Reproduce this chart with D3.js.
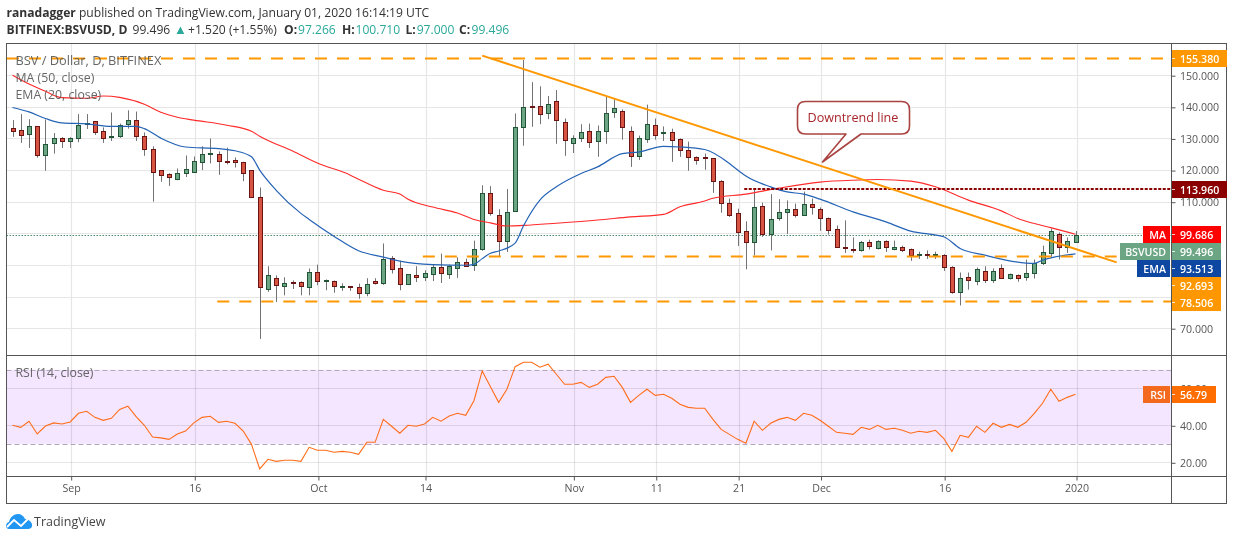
<!DOCTYPE html>
<html>
<head>
<meta charset="utf-8">
<script src="https://cdn.jsdelivr.net/npm/d3@7"></script>
<style>
html, body { margin: 0; padding: 0; background: #fff; }
svg { display: block; }
text { font-family: "Open Sans", sans-serif; }
</style>
</head>
<body>
<div class="mainviz"></div>
<script>
// daily candles, Aug 25 2019 .. Jan 1 2020 (index = days since first candle)
var opens = [133.2,132.8,131.5,133.8,124.9,128.7,130,129.2,130.3,134.7,135.4,132.2,130.5,130.9,134.6,135.7,130.9,126.8,119.9,118.9,117.3,119.1,119.5,122.7,125.2,125.2,123,123.3,122.4,119.9,111.6,82.5,86,83.4,84.5,84.7,82.9,87.9,84.8,85,83.1,83.2,82.9,81,84.8,84.4,92.3,88.9,84.1,86.7,86.2,87.2,89.5,87.2,89.1,90.8,90,95.1,112.6,105.9,97.7,107,133.5,140.4,140.4,137.9,142,135.3,128.7,130,132.2,129.3,132.2,138.5,138.8,132.5,124.3,129.7,134.4,131.8,131.9,129.7,126.2,124,124,123.7,116.4,109.7,106.3,100.6,97.4,108.5,99.9,104.7,106.6,107.8,105.9,109.4,107.8,105,101.5,95.8,95.2,94.8,97.4,95.5,97.7,95.2,95.8,94.9,93,93.6,93,93.3,89.5,81.3,86.3,84.8,88.2,85.1,88.9,86,86.7,86.3,87.3,90.5,93.9,99.9,95.8,97.266];
var highs = [135.8,137.7,136.1,133.9,136,131.7,130.4,130.4,137.7,137.7,135.5,133.5,138.2,134.7,138.9,138.5,131.9,127.5,120,119,120.5,124.6,124.3,127.5,130,125.9,127.1,124,122.6,120,114.5,89.6,86.7,86.1,85.1,84.8,88.9,90.1,85.4,85.1,84.2,83.3,84.1,85.8,85.8,96.8,92.8,91.3,87,89.6,88.3,90.1,93.6,90.1,92.4,92,97.7,115.2,114.9,107.6,114,137.9,154.8,147.8,146.5,143.4,145.3,136.3,131,134.5,134.7,134.1,143.2,142.4,139.2,133.8,130.9,140.7,136.3,133.8,133.1,130,129,124.3,125.2,123.7,116.8,111,107.8,103.8,113.9,109.7,112.4,110.8,110.4,109.4,113.2,111,108.2,105,102.5,104.1,98.7,97.6,98,97.8,97.8,97.7,96.1,95.2,94.2,94.6,94.2,93.4,89.6,87.6,87.6,89.2,89.6,88.9,90.2,87.3,87,91.7,91.7,96.1,101.5,100.3,98.7,100.71];
var lows = [130.5,128.6,127,123.9,119.8,125.2,127,127,128.8,133,131.1,128.6,129.2,130.2,133.1,129.2,124.5,110,116.3,115,116.8,117.8,119.2,120,122.1,118.5,121.8,120.8,116.5,111.5,66.6,81.5,78.3,80.4,82.4,80.4,80.4,83.6,82,81.2,81.8,81.8,79.3,80.1,83.8,83.7,87.3,82,83.7,84.6,84.9,84.9,84.3,85.6,85.9,89.4,88.1,94.5,105.6,92.6,94.1,106.8,127.7,133.7,134.5,136.1,128.3,124.5,125.4,128.9,127,124.2,128.3,136.5,129.6,121,123.2,128.6,129.6,129.2,122.6,124.2,119.8,121.7,120.1,112.8,106.5,105.2,96,88.6,93,98.9,94.6,104,99.8,105,105.8,105.9,100.8,99.6,95.5,93.8,93.8,94.2,94.9,94.9,94.1,94.6,94.1,91.3,91.9,91.9,91.9,88.1,80.9,77.2,82.2,83.6,84.3,84.3,85.7,85.4,84.7,85,85.7,90,92.6,91.7,93.8,97];
var closes = [132.4,131.1,133.8,124.9,128.4,130,129.3,130.3,134.1,135,131.9,130.3,130.9,134.4,135.7,130.9,126.8,119.5,118.6,117.7,119.2,120.2,123,125.2,125.3,123,122.9,122.4,119.2,111.6,82.9,86.7,83.8,84.4,84.3,83.2,87.9,84.8,85.1,83.2,83.2,82.9,81,84.1,84.3,92,88.6,84.1,87,86.3,87.4,89.5,87.6,89.6,90.8,89.6,95.2,112.6,106.3,97.7,106.6,133.5,140.1,140.3,137.6,141,135.7,129.4,130,131.9,129,132.2,138.2,139.5,133.5,124.3,130,134.7,131.2,132,129.4,126.2,124,123.3,123.7,116.7,109.7,105.9,100.5,97.1,108.2,99.9,104.4,106.9,107.8,105.9,109.4,108.2,104.7,100.9,95.7,95.5,94.8,97.4,96.1,97.7,95.8,95.8,94.6,93,93.6,93,93.6,89.5,81.3,86,85.1,88.6,85.1,88.2,86,87,86,87.3,90.5,94.2,100.6,95.8,97.7,99.496];

var maDays = [0,2,4,6,9,11,13,16,18,20,22,26,29,30,34,37,41,42,45,47,48,51,54,56,58,60,62,66,71,75,79,81,84,85,89,93,98,102,105,109,112,116,120,122,124,126,129];
var maValues = [150,147.2,144.9,142.9,142.7,143.4,143,140.8,138.3,136.7,135.8,134.2,132.3,130.7,126,122.2,118.4,117.1,113.6,112.4,110.8,108.3,106.4,104.4,103.3,102.3,102.5,103.2,104.2,105.2,106,108.4,110.2,111.1,112.4,114.3,116.2,116.8,117,116.5,114.7,110.5,107.1,104.7,103.1,101.8,99.686];

var emaDays = [0,2,4,6,9,12,15,16,18,21,25,27,29,30,32,35,36,39,42,45,47,51,55,56,57,58,59,61,62,64,66,69,71,74,76,79,81,84,87,88,89,92,94,96,98,102,106,109,113,115,118,121,124,125,129];
var emaValues = [139.8,138.4,136.3,134.9,134.6,133.8,133.8,133.1,130.1,127.3,126.8,126.1,124.2,120,113.6,106.3,104.4,99.1,94.5,92.5,91.2,90.1,89.9,90.2,92,93.7,94.4,96.9,102.3,110.5,114.7,118.9,121,125.2,125.7,127.5,127.3,126.5,122.1,120,118.1,114.7,113.1,112.4,110.8,106.8,103.6,100.7,98.9,95.2,93.1,91.3,90.5,91.5,93.513];

var rsiValues = [40,38.9,42.2,35.3,39.6,41.3,40.7,41.8,46.5,47.6,44.3,42.7,43.8,48.6,50.3,44.7,40,33.7,33.2,32.4,35.3,36.9,41.3,44.3,44.9,41.6,42.2,41.1,36.9,29.7,16.4,21.6,20.5,21.1,21.1,20.5,28.1,26.5,26.5,25.4,25.9,25.4,24.3,30.8,30.8,43.2,39.5,35.7,40,39.5,40.7,44.3,42.2,45,46.5,45.4,53.3,69.4,60.9,52.4,59.5,71.7,74.1,74.1,71.4,73,67.6,62.2,62.2,63.2,60.5,62.2,65.9,66.5,60.5,52.4,56.2,59.5,56.2,56.8,54.6,51.4,49.7,49.2,49.2,43.2,37.8,35.1,32.4,30.3,42.2,37.3,41.1,43.2,44.3,42.7,46.5,45.4,42.7,39.5,36.2,35.7,35.1,38.9,37.8,40,37.8,38.4,37.3,35.7,36.8,36.2,37.3,33,25.9,34.6,33.5,39.5,36.2,41.1,38.9,40.5,38.9,41.6,46.5,51.9,59.5,53,55.1,56.79];

var timeTickDays = [7,22,37,50,68,78,88,98,113,129];
var timeTickLabels = ["Sep","16","Oct","14","Nov","11","21","Dec","16","2020"];
var priceGrid = [150,140,130,120,110,100,90,80,70];
var priceTicks = [150,140,130,120,110,70]; // 100, 90, 80 sit behind the badges
var rsiTicks = [60,40,20];

// drawn horizontal levels and the downtrend line
var levelPrices = [155.38,92.693,78.506];
var levelStartDays = [-0.67,49.8,24.85];
var levelEndDays = [140.6,134,140.6];
var resistancePrice = 113.96;
var resistanceStartDay = 88.8;
var trendDays = [57,134];
var trendPrices = [156.2,90.8];

var width = 1234, height = 540;
var left = 6.5, right = 1171.5, outerRight = 1226.5, top_ = 43.5, mainBottom = 355.5, rsiBottom = 476.5, bottom = 503.5;

var svg = d3.select(".mainviz").append("svg")
	.attr("width", width)
	.attr("height", height);

var x = d3.scaleLinear().domain([0,129]).range([12.5,1075.5]);
var y = d3.scaleLinear().domain([70,150]).range([328.2,75.2]);
var yRsi = d3.scaleLinear().domain([20,40]).range([462.3,425.3]);

var gridColor = "#e6e6e6", textColor = "#555";
var gridOffset = 1; // time grid sits a pixel to the right of the candles

// rsi band
svg.append("rect")
	.attr("x",left).attr("width",right-left)
	.attr("y",yRsi(70)).attr("height",yRsi(30)-yRsi(70))
	.attr("fill","#f4e6fe");

// grids
svg.append("g").selectAll("line")
	.data(timeTickDays)
	.enter().append("line")
	.attr("x1",function(d){return Math.round(x(d)+gridOffset)+.5;})
	.attr("x2",function(d){return Math.round(x(d)+gridOffset)+.5;})
	.attr("y1",top_).attr("y2",rsiBottom)
	.attr("stroke",gridColor).attr("stroke-width",1.2)
	.attr("style","mix-blend-mode:multiply");

svg.append("g").selectAll("line")
	.data(priceGrid)
	.enter().append("line")
	.attr("x1",left).attr("x2",right)
	.attr("y1",function(d){return Math.round(y(d))+.5;})
	.attr("y2",function(d){return Math.round(y(d))+.5;})
	.attr("stroke",gridColor).attr("stroke-width",1.2);

svg.append("g").selectAll("line")
	.data(rsiTicks)
	.enter().append("line")
	.attr("x1",left).attr("x2",right)
	.attr("y1",function(d){return Math.round(yRsi(d))+.5;})
	.attr("y2",function(d){return Math.round(yRsi(d))+.5;})
	.attr("stroke",gridColor).attr("stroke-width",1.2)
	.attr("style","mix-blend-mode:multiply");

// rsi band borders
svg.append("g").selectAll("line")
	.data([70,30])
	.enter().append("line")
	.attr("x1",left).attr("x2",right)
	.attr("y1",function(d){return Math.round(yRsi(d))+.5;})
	.attr("y2",function(d){return Math.round(yRsi(d))+.5;})
	.attr("stroke","#b3a6bb").attr("stroke-dasharray","5 3");

// last price line
svg.append("line")
	.attr("x1",left).attr("x2",right)
	.attr("y1",Math.round(y(closes[129]))+.5).attr("y2",Math.round(y(closes[129]))+.5)
	.attr("stroke","#4f8a6c").attr("stroke-dasharray","1.5 1.5");

// candles
var candles = svg.append("g");
closes.forEach(function(c,i){
	var up = c >= opens[i];
	var cx = Math.round(x(i));
	candles.append("line")
		.attr("x1",cx+.5).attr("x2",cx+.5)
		.attr("y1",y(highs[i])).attr("y2",y(lows[i]))
		.attr("stroke","#737375");
	var yTop = Math.round(y(Math.max(opens[i],c))), yBot = Math.round(y(Math.min(opens[i],c)));
	candles.append("rect")
		.attr("x",cx-1.5).attr("width",4)
		.attr("y",yTop+.5).attr("height",Math.max(1,yBot-yTop))
		.attr("fill",up ? "#6ba583" : "#d75442")
		.attr("stroke",up ? "#225437" : "#6b1414");
});

// moving averages
var avgLine = d3.line()
	.x(function(d){return x(d[0]);})
	.y(function(d){return y(d[1]);})
	.curve(d3.curveMonotoneX);

svg.append("path")
	.attr("d",avgLine(d3.zip(maDays,maValues)))
	.attr("fill","none").attr("stroke","#ff2a2a").attr("stroke-width",1.1);

svg.append("path")
	.attr("d",avgLine(d3.zip(emaDays,emaValues)))
	.attr("fill","none").attr("stroke","#2563b5").attr("stroke-width",1.2);

// rsi
svg.append("path")
	.attr("d",d3.line().x(function(d,i){return x(i);}).y(function(d){return yRsi(d);})(rsiValues))
	.attr("fill","none").attr("stroke","#ff6d1a").attr("stroke-width",1.1);

// drawings
svg.append("g").selectAll("line")
	.data(levelPrices)
	.enter().append("line")
	.attr("x1",function(d,i){return x(levelStartDays[i]);})
	.attr("x2",function(d,i){return x(levelEndDays[i]);})
	.attr("y1",function(d){return Math.round(y(d))+.5;})
	.attr("y2",function(d){return Math.round(y(d))+.5;})
	.attr("stroke","#ff9800").attr("stroke-width",2).attr("stroke-dasharray","12 10");

svg.append("line")
	.attr("x1",x(resistanceStartDay)).attr("x2",right)
	.attr("y1",Math.round(y(resistancePrice))).attr("y2",Math.round(y(resistancePrice)))
	.attr("stroke","#8b0000").attr("stroke-width",2.2).attr("stroke-dasharray","3 1.5");

svg.append("line")
	.attr("x1",x(trendDays[0])).attr("x2",x(trendDays[1]))
	.attr("y1",y(trendPrices[0])).attr("y2",y(trendPrices[1]))
	.attr("stroke","#ff9800").attr("stroke-width",2);

// callout
var callout = svg.append("g");
callout.append("path")
	.attr("d","M805.5,101.5 H901.5 Q909.5,101.5 909.5,109.5 V126 Q909.5,134 901.5,134 H861 L822.5,162 L846,134 H805.5 Q797.5,134 797.5,126 V109.5 Q797.5,101.5 805.5,101.5 Z")
	.attr("fill","#fff").attr("stroke","#a94442").attr("stroke-width",1.6).attr("stroke-linejoin","round");
callout.append("text")
	.attr("x",853).attr("y",121.5)
	.attr("text-anchor","middle").attr("font-size",12.6).attr("fill","#a8262b")
	.text("Downtrend line");

// frame
var frame = svg.append("g").attr("fill","none").attr("stroke","#555");
frame.append("rect").attr("x",left).attr("y",top_).attr("width",outerRight-left).attr("height",bottom-top_);
frame.append("line").attr("x1",right).attr("x2",right).attr("y1",top_).attr("y2",bottom);
frame.append("line").attr("x1",left).attr("x2",outerRight).attr("y1",mainBottom).attr("y2",mainBottom);
frame.append("line").attr("x1",left).attr("x2",outerRight).attr("y1",rsiBottom).attr("y2",rsiBottom);

// axes
var priceAxis = svg.append("g")
	.attr("transform","translate("+right+",0.5)")
	.call(d3.axisRight(y).tickValues(priceTicks).tickSize(4).tickPadding(4.5).tickFormat(d3.format(".3f")));
var rsiAxis = svg.append("g")
	.attr("transform","translate("+right+",0.5)")
	.call(d3.axisRight(yRsi).tickValues(rsiTicks).tickSize(4).tickPadding(4.5).tickFormat(d3.format(".2f")));
var timeAxis = svg.append("g")
	.attr("transform","translate("+gridOffset+","+rsiBottom+")")
	.call(d3.axisBottom(x).tickValues(timeTickDays).tickSize(4).tickPadding(4)
		.tickFormat(function(d,i){return timeTickLabels[i];}));
[priceAxis,rsiAxis,timeAxis].forEach(function(a){
	a.select(".domain").remove();
	a.selectAll("text").attr("fill",textColor).attr("font-size",10.6).style("font-family","'Open Sans',sans-serif");
	a.selectAll("line").attr("stroke","#555");
});

// price badges on the right scale
var badgeNames = [null,null,"MA","BSVUSD","EMA",null,null];
var badgeValues = ["155.380","113.960","99.686","99.496","93.513","92.693","78.506"];
var badgeColors = ["#ff9800","#8b0000","#ff0000","#6ba583","#0d47a1","#ff9800","#ff9800"];
var badgeTops = [50,181,226,243,260,277,294];
var badgeRights = [1227,1227,1221,1221,1221,1221,1221];
var badgeLefts = [null,null,1143,1120,1137,null,null];
var badges = svg.append("g");
function badge(name,value,color,color2,top,leftEdge,rightEdge){
	badges.append("rect").attr("x",1172).attr("y",top).attr("width",rightEdge-1172).attr("height",17).attr("fill",color);
	badges.append("line").attr("x1",1172).attr("x2",1175).attr("y1",top+8.5).attr("y2",top+8.5).attr("stroke","#fff").attr("stroke-opacity",.8);
	badges.append("text").attr("x",1180).attr("y",top+12.5).attr("font-size",10.6).attr("font-weight",600).attr("fill","#fff").text(value);
	if (name) {
		badges.append("rect").attr("x",leftEdge).attr("y",top).attr("width",1170-leftEdge).attr("height",17).attr("fill",color2);
		badges.append("text").attr("x",1166).attr("y",top+12.5).attr("text-anchor","end").attr("font-size",10.6).attr("font-weight",600).attr("fill","#fff").text(name);
	}
}
badgeValues.forEach(function(v,i){
	badge(badgeNames[i],v,badgeColors[i],badgeColors[i],badgeTops[i],badgeLefts[i],badgeRights[i]);
});
badge("RSI","56.79","#ff6d00","#f36a1f",386,1143,1216);

// pane legends
var legends = ["BSV / Dollar, D, BITFINEX","MA (50, close)","EMA (20, close)","RSI (14, close)"];
var legendY = [65,82,99,377];
var legendSizes = [12.8,12.3,12.3,12.3];
svg.append("g").selectAll("text")
	.data(legends)
	.enter().append("text")
	.attr("x",15.5).attr("y",function(d,i){return legendY[i];})
	.attr("font-size",function(d,i){return legendSizes[i];}).attr("fill","#555").attr("fill-opacity",.9)
	.text(function(d){return d;});

// header
var teal = "#2ba89a";
svg.append("text").attr("x",6.5).attr("y",17).attr("font-size",12.1).attr("fill","#333")
	.html('<tspan font-weight="700">ranadagger</tspan> published on TradingView.com, January 01, 2020 16:14:19 UTC');

var head = svg.append("text").attr("y",33.5).attr("font-size",12.1).attr("fill","#333");
head.append("tspan").attr("x",6.5).attr("font-weight",700).text("BITFINEX:BSVUSD, D");
head.append("tspan").attr("x",132.5).text("99.496");
head.append("tspan").attr("x",174).attr("font-size",13).attr("fill",teal).text("▲");
head.append("tspan").attr("x",188).text("+1.520 (+1.55%)");
var ohlcLabels = ["O:","H:","L:","C:"], ohlcValues = ["97.266","100.710","97.000","99.496"];
var ohlcLabelX = [284,342,405.5,459], ohlcValueX = [298,355.5,416.7,471.5];
ohlcLabels.forEach(function(l,i){
	head.append("tspan").attr("x",ohlcLabelX[i]).attr("font-weight",700).text(l);
	head.append("tspan").attr("x",ohlcValueX[i]).attr("fill",teal).text(ohlcValues[i]);
});

// tradingview logo
var logo = svg.append("g");
logo.append("path")
	.attr("d","M9,529 C5,529 5,523 9,522 C10,517 14,514 18,514 C21,514 24,516 25,519 C29,519 33,523 32,526 C32,528 30,529 28,529 Z")
	.attr("fill","#2196f3");
logo.append("path")
	.attr("d","M7,527 L14,520 L21,526 L28,519")
	.attr("fill","none").attr("stroke","#fff").attr("stroke-width",1.8);
svg.append("text").attr("x",34).attr("y",526).attr("font-size",12.5).attr("fill","#444").text("TradingView");
</script>
</body>
</html>
